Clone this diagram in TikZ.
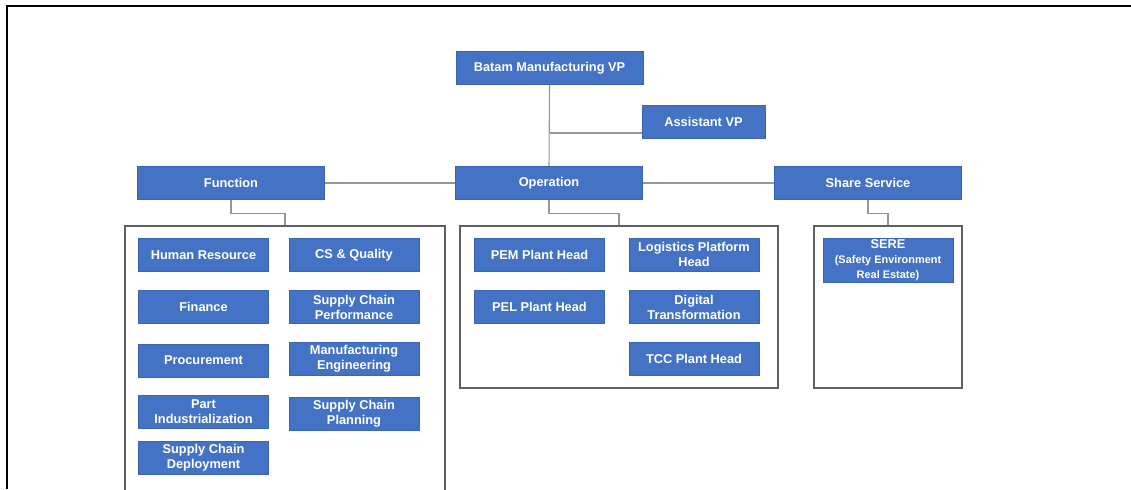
\documentclass[tikz,border=0pt]{standalone}
\usepackage{fontspec}
\setmainfont{Liberation Sans}
\usetikzlibrary{positioning}

\definecolor{unitblue}{RGB}{68,114,196}
\definecolor{unitedge}{RGB}{60,100,175}
\definecolor{linkgray}{RGB}{150,150,150}
\definecolor{groupgray}{RGB}{95,95,95}

\newcommand{\smallunit}{\fontsize{8.2}{9.6}\selectfont}

\tikzset{
  unit/.style={draw=unitedge, fill=unitblue, text=white, line width=0.5pt,
    font=\fontsize{9.6}{11.2}\selectfont\bfseries, align=center,
    inner sep=1pt, minimum height=24.75pt},
  topunit/.style={unit, minimum width=140.25pt},
  subunit/.style={unit, minimum width=97.5pt},
  grp/.style={draw=groupgray, line width=1pt},
  link/.style={draw=linkgray, line width=0.8pt},
}

\begin{document}
\begin{tikzpicture}[x=0.75pt,y=0.75pt,yscale=-1,xscale=1]
\useasboundingbox (0,0) rectangle (1131,489);

%Frame
\draw [line width=1.6pt] (7,489) -- (7,6) -- (1131,6);

%Top level
\node [topunit] (vp) at (549.5,68) {Batam Manufacturing VP};
\node [unit, minimum width=92.25pt] (asst) at (703.5,121.5) {Assistant VP};
\node [topunit] (func) at (231,183) {Function};
\node [topunit] (oper) at (549,183) {Operation};
\node [topunit] (share) at (868,183) {Share Service};

%Groups
\node [grp, minimum width=240pt, minimum height=205.5pt] (fgrp) at (285,363) {};
\node [grp, minimum width=238.5pt, minimum height=121.5pt] (ogrp) at (619,307) {};
\node [grp, minimum width=111pt, minimum height=121.5pt] (sgrp) at (888,307) {};

%Function units
\node [subunit] (hr) at (203.5,255) {Human Resource};
\node [subunit] (csq) at (354,255) {CS \& Quality};
\node [subunit] (fin) at (203.5,307) {Finance};
\node [subunit] (scperf) at (354,307) {Supply Chain\\Performance};
\node [subunit] (proc) at (203.5,360.5) {Procurement};
\node [subunit] (mfe) at (354,359) {Manufacturing\\Engineering};
\node [subunit] (pind) at (203.5,412) {Part\\Industrialization};
\node [subunit] (scplan) at (354,414) {Supply Chain\\Planning};
\node [subunit] (scdep) at (203.5,457.5) {Supply Chain\\Deployment};

%Operation units
\node [subunit] (pem) at (539.5,254.5) {PEM Plant Head};
\node [subunit] (lph) at (694,254.5) {Logistics Platform\\Head};
\node [subunit] (pel) at (539.5,307) {PEL Plant Head};
\node [subunit] (dig) at (694,307) {Digital\\Transformation};
\node [subunit] (tcc) at (694,358.5) {TCC Plant Head};

%Share service units
\node [subunit, minimum height=33pt] (sere) at (888,260) {SERE\\{\smallunit(Safety Environment}\\{\smallunit Real Estate)}};

%Connectors
\coordinate (ajoin) at (550,133);
\draw [link] (vp.south) -- (oper.north);
\draw [link] (ajoin) -- (ajoin -| asst.west);
\draw [link] (func.east) -- (oper.west);
\draw [link] (oper.east) -- (share.west);
\draw [link] (func.south) -- ++(0,14) -| (fgrp.north);
\draw [link] (oper.south) -- ++(0,14) -| (ogrp.north);
\draw [link] (share.south) -- ++(0,14) -| (sgrp.north);

\end{tikzpicture}
\end{document}
